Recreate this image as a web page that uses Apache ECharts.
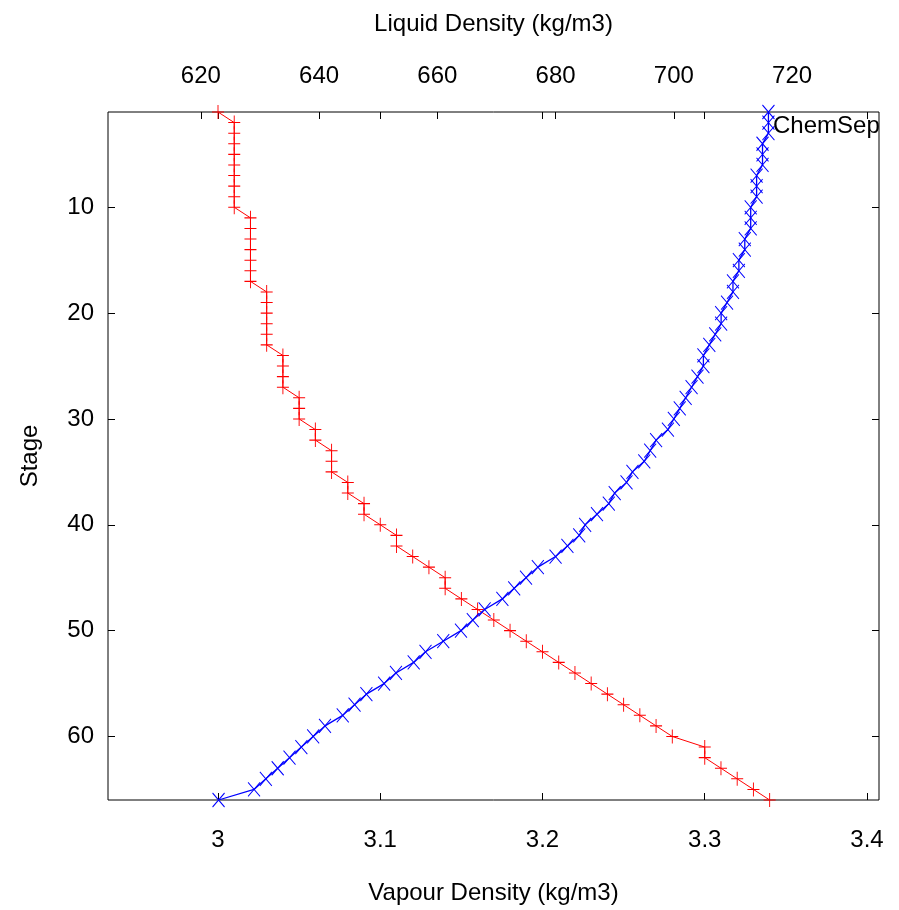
<!DOCTYPE html>
<html>
<head>
<meta charset="utf-8">
<script src="https://cdn.jsdelivr.net/npm/echarts@6.0.0/dist/echarts.min.js"></script>
<style>
html,body{margin:0;padding:0;background:#fff;}
#chart{width:899px;height:910px;}
</style>
</head>
<body>
<div id="chart"></div>
<script>
// Stage numbers (y axis, top = stage 1)
var stages = [1,2,3,4,5,6,7,8,9,10,11,12,13,14,15,16,17,18,19,20,21,22,23,24,25,26,27,28,29,30,31,32,33,34,35,36,37,38,39,40,41,42,43,44,45,46,47,48,49,50,51,52,53,54,55,56,57,58,59,60,61,62,63,64,65,66];
// Vapour density (kg/m3), red "+" series, bottom axis
var vapourDensity = [3.00,3.01,3.01,3.01,3.01,3.01,3.01,3.01,3.01,3.01,3.02,3.02,3.02,3.02,3.02,3.02,3.02,3.03,3.03,3.03,3.03,3.03,3.03,3.04,3.04,3.04,3.04,3.05,3.05,3.05,3.06,3.06,3.07,3.07,3.07,3.08,3.08,3.09,3.09,3.10,3.11,3.11,3.12,3.13,3.14,3.14,3.15,3.16,3.17,3.18,3.19,3.20,3.21,3.22,3.23,3.24,3.25,3.26,3.27,3.28,3.30,3.30,3.31,3.32,3.33,3.34];
// Liquid density (kg/m3), blue "x" series, top axis
var liquidDensity = [716,716,716,715,715,715,714,714,714,713,713,713,712,712,711,711,710,710,709,708,708,707,706,705,705,704,703,702,701,700,699,697,696,695,693,692,690,689,687,685,684,682,680,677,675,673,671,668,666,664,661,658,656,653,651,648,646,644,641,639,637,635,633,631,629,623];
// Tick labels
var vapourTicks = [3, 3.1, 3.2, 3.3, 3.4];
var liquidTickLabels = [620, 640, 660, 680, 700, 720];
var liquidTickMarks = [620, 640, 660, 680, 700];
var stageTicks = [10, 20, 30, 40, 50, 60];

var FONT = "'Liberation Sans', Arial, sans-serif";
var txt = {fontFamily: FONT, fontSize: 24, color: '#000'};

var vapourPts = stages.map(function (s, i) { return [vapourDensity[i], s]; });
var liquidPts = stages.map(function (s, i) { return [liquidDensity[i], s]; });

var chart = echarts.init(document.getElementById('chart'), null, {renderer: 'canvas'});
var tickStyle = {show: true, inside: true, length: 7, lineStyle: {color: '#000', width: 1}};
chart.setOption({
  animation: false,
  backgroundColor: '#fff',
  textStyle: {fontFamily: FONT},
  title: {
    text: 'ChemSep', left: 773, top: 114, padding: 0,
    textStyle: {fontFamily: FONT, fontSize: 24, fontWeight: 'normal', color: '#000'}
  },
  grid: {left: 108, right: 20, top: 112, bottom: 106, show: true, borderColor: '#000', borderWidth: 1, backgroundColor: 'transparent'},
  xAxis: [
    {
      type: 'value', position: 'bottom', min: 2.9322, max: 3.4074,
      name: 'Vapour Density (kg/m3)', nameLocation: 'middle', nameGap: 81,
      nameTextStyle: txt,
      axisLine: {show: false}, splitLine: {show: false},
      axisTick: Object.assign({customValues: vapourTicks}, tickStyle),
      axisLabel: Object.assign({customValues: vapourTicks, margin: 28, formatter: function (v) { return String(v); }}, txt)
    },
    {
      type: 'value', position: 'top', min: 604.3, max: 734.7,
      name: 'Liquid Density (kg/m3)', nameLocation: 'middle', nameGap: 76,
      nameTextStyle: txt,
      axisLine: {show: false}, splitLine: {show: false},
      axisTick: Object.assign({customValues: liquidTickMarks}, tickStyle),
      axisLabel: Object.assign({customValues: liquidTickLabels, margin: 24}, txt)
    },
    {
      type: 'value', position: 'top', min: 2.9322, max: 3.4074,
      axisLine: {show: false}, splitLine: {show: false},
      axisTick: Object.assign({customValues: vapourTicks}, tickStyle),
      axisLabel: {show: false}
    }
  ],
  yAxis: [
    {
      type: 'value', position: 'left', min: 1, max: 66, inverse: true,
      name: 'Stage', nameLocation: 'middle', nameGap: 66,
      nameTextStyle: txt,
      axisLine: {show: false}, splitLine: {show: false},
      axisTick: Object.assign({customValues: stageTicks}, tickStyle),
      axisLabel: Object.assign({customValues: stageTicks, margin: 14}, txt)
    },
    {
      type: 'value', position: 'right', min: 1, max: 66, inverse: true,
      axisLine: {show: false}, splitLine: {show: false},
      axisTick: Object.assign({customValues: stageTicks}, tickStyle),
      axisLabel: {show: false}
    }
  ],
  series: [
    {
      name: 'Vapour Density', type: 'line', xAxisIndex: 0, yAxisIndex: 0,
      data: vapourPts, showAllSymbol: true,
      symbol: 'path://M0,5L10,5M5,0L5,10', symbolSize: [12, 14],
      itemStyle: {color: '#ff0000', borderColor: '#ff0000', borderWidth: 1},
      lineStyle: {color: '#ff0000', width: 1}, silent: true
    },
    {
      name: 'Liquid Density', type: 'line', xAxisIndex: 1, yAxisIndex: 0,
      data: liquidPts, showAllSymbol: true,
      symbol: 'path://M0,0L10,10M10,0L0,10', symbolSize: [12, 14],
      itemStyle: {color: '#0000ff', borderColor: '#0000ff', borderWidth: 1},
      lineStyle: {color: '#0000ff', width: 1.3}, silent: true
    }
  ]
});
</script>
</body>
</html>
